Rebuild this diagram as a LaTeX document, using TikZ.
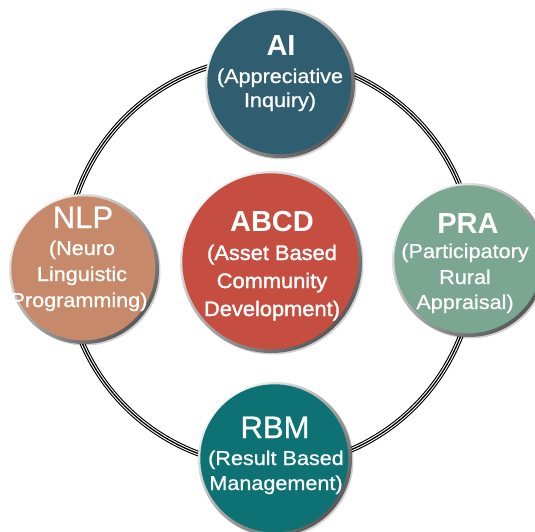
\documentclass[tikz,border=0pt]{standalone}
\usepackage{fontspec}
\setmainfont{Liberation Sans}
\newfontfamily\subfont{Liberation Sans}[FakeStretch=1.08,FakeBold=0.8]
\newfontfamily\midfont{Liberation Sans}[FakeStretch=1.04,FakeBold=1.6]
\newfontfamily\headrfont{Liberation Sans}[FakeBold=0.8]
\definecolor{aicol}{HTML}{2E5E6F}
\definecolor{nlpcol}{HTML}{C68A6A}
\definecolor{pracol}{HTML}{7AA692}
\definecolor{rbmcol}{HTML}{0E7275}
\definecolor{abcdcol}{HTML}{C64E40}
\newcommand\mybubble[5]{%
  \fill[black, opacity=.18] (#2+1.5,#3+1.5) circle (#4);
  \shade[top color=gray!8, bottom color=black!65, shading angle=45] (#2,#3) circle (#4);
  \node[bub, fill=#5, minimum size=2*#4pt-6pt] (#1) at (#2-0.7,#3-0.7) {};
}
\begin{document}
\begin{tikzpicture}[x=1pt,y=-1pt,
  bub/.style={circle, inner sep=0pt, draw=none},
  hd/.style={text=white, anchor=base, inner sep=0pt, font=\fontsize{29}{29}\selectfont\bfseries},
  hdr/.style={text=white, anchor=base, inner sep=0pt, font=\headrfont\fontsize{31}{31}\selectfont},
  sb/.style={text=white, anchor=base, inner sep=0pt, font=\subfont\fontsize{20}{20}\selectfont},
  sbb/.style={text=white, anchor=base, inner sep=0pt, font=\midfont\fontsize{21}{21}\selectfont}]
\useasboundingbox (0,0) rectangle (535,531);
\fill[white] (0,0) rectangle (535,531);
% triple ring
\draw[line width=5.6pt] (270,262) circle (204.5);
\draw[white, line width=3.4pt] (270,262) circle (204.5);
\draw[line width=1.3pt] (270,262) circle (204.5);
% bubbles
\mybubble{ai}{280}{83}{75}{aicol}
\mybubble{nlp}{84}{269}{75}{nlpcol}
\mybubble{pra}{469}{260}{77}{pracol}
\mybubble{rbm}{275}{459}{77}{rbmcol}
\mybubble{abcd}{271}{262}{91}{abcdcol}
% texts
\node[hd] (aih) at (281,55) {AI};
\node[sb] (ai1) at (280,83) {(Appreciative};
\node[sb] (ai2) at (280,107) {Inquiry)};
\node[hdr] (nlph) at (83,228) {NLP};
\node[sb] (nlp1) at (82,255) {(Neuro};
\node[sb] (nlp2) at (82,281) {Linguistic};
\node[sb] (nlp3) at (79,307) {Programming)};
\node[hd] (prah) at (468,233) {PRA};
\node[sb] (pra1) at (465,258) {(Participatory};
\node[sb] (pra2) at (465,284) {Rural};
\node[sb] (pra3) at (465,309) {Appraisal)};
\node[hdr] (rbmh) at (275,438) {RBM};
\node[sb] (rbm1) at (276,465) {(Result Based};
\node[sb] (rbm2) at (276,490) {Management)};
\node[hd] (abcdh) at (272,231) {ABCD};
\node[sbb] (abcd1) at (272,260) {(Asset Based};
\node[sbb] (abcd2) at (272,288) {Community};
\node[sbb] (abcd3) at (272,316) {Development)};
\end{tikzpicture}
\end{document}
